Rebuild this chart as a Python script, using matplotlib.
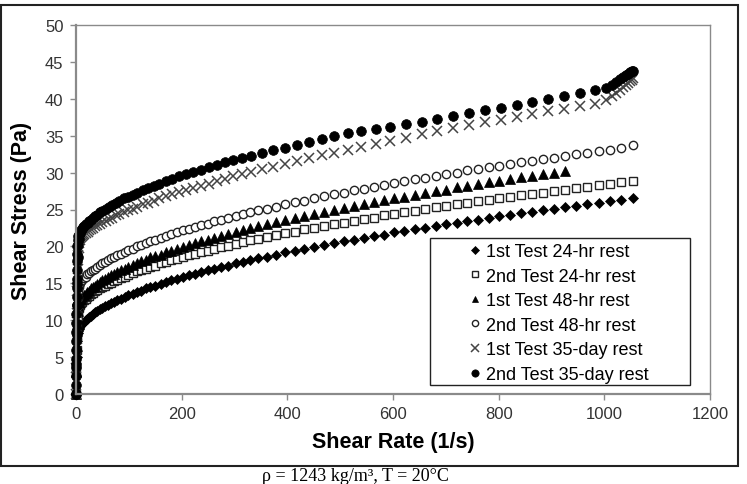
import matplotlib
matplotlib.use("Agg")
import matplotlib.pyplot as plt
from matplotlib.patches import Rectangle

plt.rcParams['font.family'] = ['Liberation Sans', 'DejaVu Sans']

# ---------------- data ----------------
shear_rate_a = [0, 0.5, 1, 2, 3, 4, 5, 6, 8, 10,
                12, 15, 18, 21, 24, 28, 32, 36, 40, 45,
                50, 55, 60, 66, 72, 78, 85, 92, 99, 107,
                115, 123, 132, 141, 150, 160, 170, 180, 191, 202,
                213, 225, 237, 249, 262, 275, 288, 302, 316, 330,
                345, 361, 378, 396, 414, 432, 450, 469, 488, 507,
                526, 545, 564, 583, 602, 621, 641, 661, 681, 701,
                721, 741, 761, 781, 801, 821, 842, 863, 884, 905,
                926, 947, 968, 989, 1010, 1031, 1055]

stress_1st_24hr = [0, 2.5, 5.0, 7.2, 8.2, 8.6, 8.85, 9.0, 9.2, 9.4,
                   9.6, 9.8, 10.0, 10.2, 10.4, 10.6, 10.9, 11.1, 11.2, 11.5,
                   11.7, 11.9, 12.1, 12.3, 12.5, 12.7, 12.9, 13.1, 13.4, 13.6,
                   13.8, 14.0, 14.3, 14.5, 14.7, 14.9, 15.2, 15.4, 15.6, 15.8,
                   16.1, 16.3, 16.5, 16.8, 17.0, 17.2, 17.4, 17.7, 17.9, 18.1,
                   18.4, 18.6, 18.9, 19.2, 19.4, 19.7, 19.9, 20.2, 20.4, 20.7,
                   20.9, 21.2, 21.4, 21.6, 21.9, 22.1, 22.3, 22.5, 22.8, 23.0,
                   23.2, 23.4, 23.6, 23.8, 24.1, 24.3, 24.5, 24.7, 24.9, 25.1,
                   25.3, 25.5, 25.7, 25.9, 26.1, 26.3, 26.6]

stress_2nd_24hr = [0, 3.0, 6.0, 9.0, 10.6, 11.3, 11.7, 11.9, 12.1, 12.3,
                   12.5, 12.7, 12.9, 13.1, 13.3, 13.5, 13.7, 13.9, 14.1, 14.3,
                   14.5, 14.7, 14.9, 15.1, 15.3, 15.5, 15.7, 15.9, 16.1, 16.4,
                   16.6, 16.8, 17.0, 17.2, 17.4, 17.7, 17.9, 18.1, 18.3, 18.5,
                   18.8, 19.0, 19.2, 19.4, 19.7, 19.9, 20.1, 20.3, 20.6, 20.8,
                   21.0, 21.3, 21.5, 21.8, 22.0, 22.3, 22.5, 22.8, 23.0, 23.2,
                   23.5, 23.7, 23.9, 24.2, 24.4, 24.6, 24.8, 25.1, 25.3, 25.5,
                   25.7, 25.9, 26.1, 26.3, 26.5, 26.7, 26.9, 27.1, 27.3, 27.5,
                   27.7, 27.9, 28.1, 28.3, 28.5, 28.7, 28.9]

stress_1st_48hr = [0, 3.0, 6.5, 9.5, 11.2, 11.9, 12.3, 12.5, 12.7, 12.9,
                   13.1, 13.4, 13.6, 13.8, 14.0, 14.3, 14.5, 14.7, 14.9, 15.2,
                   15.4, 15.6, 15.8, 16.1, 16.3, 16.5, 16.8, 17.0, 17.2, 17.5,
                   17.7, 18.0, 18.2, 18.5, 18.7, 18.9, 19.2, 19.4, 19.7, 19.9,
                   20.2, 20.4, 20.7, 20.9, 21.2, 21.4, 21.7, 22.0, 22.2, 22.5,
                   22.7, 23.0, 23.3, 23.6, 23.8, 24.1, 24.4, 24.7, 25.0, 25.2,
                   25.5, 25.7, 26.0, 26.3, 26.5, 26.7, 27.0, 27.3, 27.5, 27.7,
                   28.0, 28.2, 28.4, 28.7, 28.9, 29.1, 29.4, 29.6, 29.8, 30.0,
                   30.2]

stress_2nd_48hr = [0, 3.5, 7.5, 11.0, 13.0, 14.0, 14.5, 14.8, 15.1, 15.3,
                   15.5, 15.7, 15.9, 16.2, 16.4, 16.6, 16.8, 17.0, 17.2, 17.5,
                   17.7, 17.9, 18.1, 18.4, 18.6, 18.8, 19.0, 19.3, 19.5, 19.7,
                   20.0, 20.2, 20.5, 20.7, 20.9, 21.2, 21.4, 21.7, 21.9, 22.2,
                   22.4, 22.6, 22.9, 23.1, 23.4, 23.6, 23.9, 24.1, 24.4, 24.6,
                   24.9, 25.1, 25.4, 25.7, 26.0, 26.2, 26.5, 26.8, 27.1, 27.3,
                   27.6, 27.8, 28.1, 28.3, 28.6, 28.8, 29.1, 29.3, 29.6, 29.8,
                   30.0, 30.3, 30.5, 30.7, 30.9, 31.2, 31.4, 31.6, 31.8, 32.0,
                   32.3, 32.5, 32.7, 32.9, 33.1, 33.3, 33.7]

shear_rate_b = [0, 0.5, 1, 1.5, 2, 3, 4, 5, 6, 7,
                8, 10, 12, 14, 16, 19, 22, 25, 28, 32,
                36, 40, 45, 50, 56, 62, 68, 75, 82, 90,
                98, 107, 116, 126, 136, 147, 158, 170, 182, 195,
                208, 222, 236, 251, 266, 282, 298, 315, 332, 352,
                373, 395, 418, 441, 465, 489, 514, 540, 567, 595,
                624, 654, 684, 714, 744, 774, 804, 834, 864, 894,
                924, 954, 982, 1003, 1015, 1023, 1030, 1036, 1041, 1045,
                1049, 1052, 1055]

stress_1st_35day = [0, 3.5, 7.5, 11.0, 14.0, 17.0, 18.8, 19.8, 20.4, 20.8,
                    21.1, 21.3, 21.4, 21.5, 21.7, 21.8, 22.0, 22.2, 22.3, 22.5,
                    22.7, 22.9, 23.1, 23.3, 23.5, 23.7, 23.9, 24.2, 24.4, 24.6,
                    24.9, 25.1, 25.4, 25.7, 25.9, 26.2, 26.5, 26.8, 27.1, 27.4,
                    27.6, 27.9, 28.2, 28.5, 28.9, 29.2, 29.5, 29.8, 30.1, 30.5,
                    30.8, 31.2, 31.6, 32.0, 32.4, 32.7, 33.1, 33.5, 33.9, 34.3,
                    34.7, 35.2, 35.6, 36.0, 36.4, 36.8, 37.1, 37.5, 37.9, 38.3,
                    38.6, 39.0, 39.3, 39.9, 40.4, 40.8, 41.2, 41.6, 41.9, 42.2,
                    42.4, 42.6, 42.8]

stress_2nd_35day = [0, 4.0, 8.0, 12.0, 15.0, 18.5, 20.2, 21.0, 21.5, 21.8,
                    22.0, 22.2, 22.4, 22.6, 22.8, 23.0, 23.2, 23.5, 23.6, 23.9,
                    24.1, 24.3, 24.6, 24.8, 25.1, 25.4, 25.6, 25.9, 26.2, 26.5,
                    26.7, 27.0, 27.3, 27.6, 27.9, 28.2, 28.5, 28.8, 29.1, 29.5,
                    29.8, 30.1, 30.4, 30.7, 31.0, 31.4, 31.7, 32.0, 32.3, 32.7,
                    33.0, 33.4, 33.8, 34.2, 34.5, 34.9, 35.3, 35.6, 35.9, 36.2,
                    36.6, 36.9, 37.3, 37.7, 38.1, 38.5, 38.8, 39.2, 39.6, 40.0,
                    40.4, 40.8, 41.2, 41.5, 41.9, 42.3, 42.7, 43.0, 43.2, 43.4,
                    43.6, 43.7, 43.8]

# start-up ramp readings (dense low-shear points forming the vertical band)
startup_shear = [0, 0.1, 0.2, 0.3, 0.4, 0.5, 0.6, 0.7, 0.8, 0.9,
                 1.0, 1.2, 1.4, 1.6, 1.8, 2.0, 2.3, 2.6, 3.0, 3.5]
startup_stress = [0, 1.2, 2.4, 3.6, 4.8, 6.0, 7.2, 8.4, 9.6, 10.8,
                  12.0, 13.2, 14.4, 15.6, 16.8, 18.0, 19.0, 20.0, 20.8, 21.4]

series_labels = ["1st Test 24-hr rest", "2nd Test 24-hr rest", "1st Test 48-hr rest",
                 "2nd Test 48-hr rest", "1st Test 35-day rest", "2nd Test 35-day rest"]
x_ticks = [0, 200, 400, 600, 800, 1000, 1200]
y_ticks = [0, 5, 10, 15, 20, 25, 30, 35, 40, 45, 50]
x_label = "Shear Rate (1/s)"
y_label = "Shear Stress (Pa)"
caption = "ρ = 1243 kg/m³, T = 20°C"

# ---------------- figure ----------------
W, H = 747, 485
fig = plt.figure(figsize=(W / 100, H / 100), dpi=100)

def fx(px):
    return px / W

def fy(py):
    return 1 - py / H

ax = fig.add_axes([fx(76), fy(395), fx(710) - fx(76), fy(26) - fy(395)])

n_tri = len(stress_1st_48hr)
common = dict(linestyle='none', clip_on=False)
ax.plot(shear_rate_a, stress_1st_24hr, marker='D', ms=5.2,
        mfc='black', mec='black', mew=0.5, label=series_labels[0], **common)
ax.plot(shear_rate_a, stress_2nd_24hr, marker='s', ms=6.0,
        mfc='white', mec='#222222', mew=1.0, label=series_labels[1], **common)
ax.plot(shear_rate_a[:n_tri], stress_1st_48hr, marker='^', ms=6.5,
        mfc='black', mec='black', mew=0.5, label=series_labels[2], **common)
ax.plot(shear_rate_a, stress_2nd_48hr, marker='o', ms=6.0,
        mfc='white', mec='#222222', mew=1.0, label=series_labels[3], **common)
ax.plot(shear_rate_b, stress_1st_35day, marker='x', ms=6.8,
        mfc='none', mec='#444444', mew=1.1, label=series_labels[4], **common)
ax.plot(shear_rate_b, stress_2nd_35day, marker='o', ms=7.0,
        mfc='black', mec='black', mew=0.5, label=series_labels[5], **common)
ax.plot(startup_shear, startup_stress, marker='o', ms=7.0,
        mfc='black', mec='black', mew=0.5, **common)

ax.set_xlim(0, 1200)
ax.set_ylim(0, 50)
ax.set_xticks(x_ticks)
ax.set_yticks(y_ticks)
ax.set_xticklabels([str(v) for v in x_ticks])
ax.set_yticklabels([str(v) for v in y_ticks])

for s in ax.spines.values():
    s.set_color('#8a8a8a')
    s.set_linewidth(1.0)
ax.spines['left'].set_linewidth(1.6)
ax.spines['bottom'].set_linewidth(1.6)
ax.tick_params(axis='both', direction='out', length=4, width=1.0, color='#8a8a8a',
               labelsize=12, labelcolor='#333333', pad=5)

ax.set_xlabel(x_label, fontsize=15.5, fontweight='bold', labelpad=7)
ax.set_ylabel(y_label, fontsize=15.5, fontweight='bold', labelpad=9)

# legend (frame drawn separately)
leg = fig.legend(handles=ax.get_lines()[:6], loc='upper left',
                 bbox_to_anchor=(fx(470), fy(244)),
                 frameon=False, fontsize=13, markerscale=0.75,
                 handlelength=0.6, handletextpad=0.3, labelspacing=0.42,
                 borderpad=0.0, borderaxespad=0.0)
fig.add_artist(Rectangle((fx(430.5), fy(386)), fx(690) - fx(430.5), fy(238.5) - fy(386),
                         transform=fig.transFigure, fill=False, edgecolor='#222222',
                         linewidth=1.0))

# outer chart frame
fig.add_artist(Rectangle((fx(1.5), fy(467)), fx(737.5) - fx(1.5), fy(6) - fy(467),
                         transform=fig.transFigure, fill=False, edgecolor='#222222',
                         linewidth=1.5))

fig.text(fx(355), fy(481), caption, ha='center', va='baseline', fontsize=13,
         family='Liberation Serif')

fig.savefig("out.png", dpi=100)
